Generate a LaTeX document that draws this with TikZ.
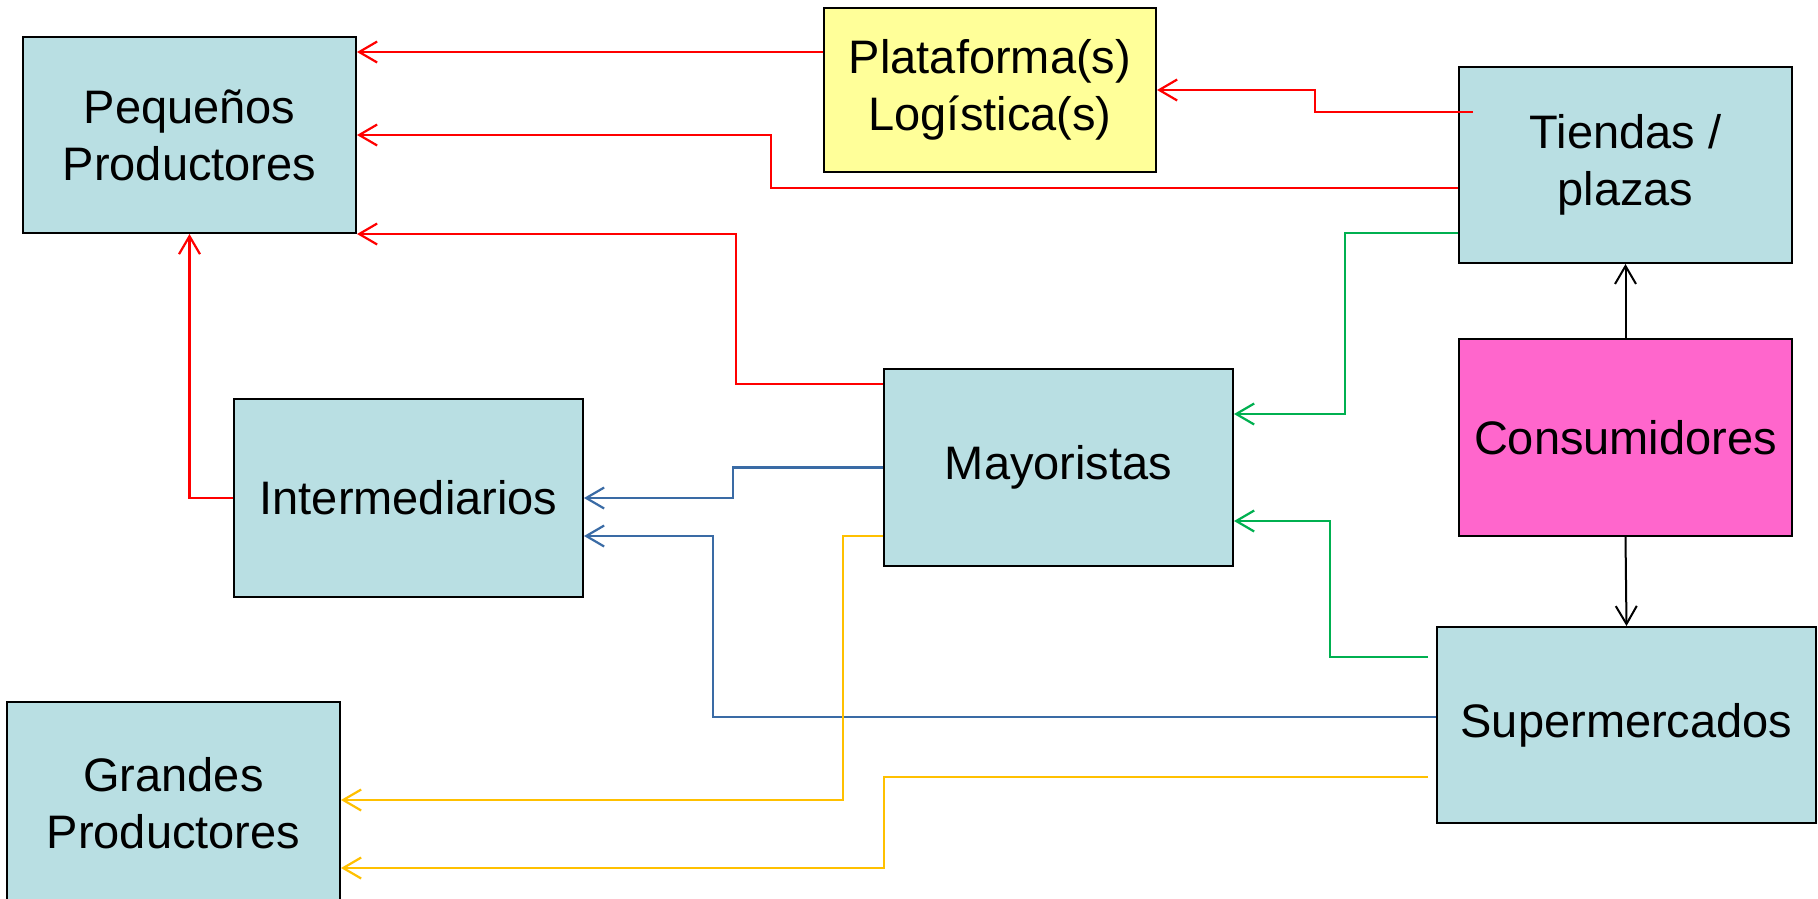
\documentclass[tikz,border=0pt]{standalone}
\usepackage{fontspec}
\setmainfont{Liberation Sans}
\usetikzlibrary{arrows.meta,calc}

\definecolor{boxblue}{RGB}{185,223,227}
\definecolor{boxyellow}{RGB}{255,255,153}
\definecolor{boxpink}{RGB}{255,102,204}
\definecolor{flowred}{RGB}{255,0,0}
\definecolor{flowblue}{RGB}{58,107,165}
\definecolor{floworange}{RGB}{255,192,0}
\definecolor{flowgreen}{RGB}{0,176,80}

\tikzset{
  actor/.style={draw=black, line width=2pt, fill=boxblue, inner sep=0pt,
    align=center, font=\fontsize{47}{57}\selectfont},
  flow/.style={line width=2.2pt, -{Straight Barb[length=18pt,width=21pt]}},
  redflow/.style={flow, draw=flowred},
  blueflow/.style={flow, draw=flowblue},
  orangeflow/.style={flow, draw=floworange},
  greenflow/.style={flow, draw=flowgreen},
  blackflow/.style={flow, draw=black, line width=2pt},
}

\begin{document}
\begin{tikzpicture}[x=1pt, y=-1pt]
\useasboundingbox (0,0) rectangle (1818,898);
\clip (0,0) rectangle (1818,898);
\fill[white] (0,0) rectangle (1818,898);

% actors of the supply chain
\node[actor, minimum width=333pt, minimum height=196pt] (peq) at (189.5,135) {Pequeños\\Productores};
\node[actor, fill=boxyellow, minimum width=332pt, minimum height=164pt] (plat) at (990,90) {Plataforma(s)\\Logística(s)};
\node[actor, minimum width=333pt, minimum height=196pt] (tien) at (1625.5,165) {Tiendas /\\plazas};
\node[actor, fill=boxpink, minimum width=333pt, minimum height=197pt] (cons) at (1625.5,437.5) {Consumidores};
\node[actor, minimum width=379pt, minimum height=196pt] (sup) at (1626.5,725) {Supermercados};
\node[actor, minimum width=349pt, minimum height=197pt] (may) at (1058.5,467.5) {Mayoristas};
\node[actor, minimum width=349pt, minimum height=198pt] (inter) at (408.5,498) {Intermediarios};
\node[actor, minimum width=333pt, minimum height=202pt] (gran) at (173.5,803) {Grandes\\Productores};

% start points of the flows on the source boxes
\coordinate (s1) at ([yshift=38pt]plat.west);
\coordinate (s2) at ([xshift=15pt,yshift=53pt]tien.west);
\coordinate (s3) at ([yshift=-23pt]tien.west);
\coordinate (s4) at ([yshift=83.5pt]may.west);
\coordinate (s7) at ([yshift=8pt]sup.west);
\coordinate (s8) at ([yshift=-68.5pt]may.west);
\coordinate (s9) at ([xshift=-8pt,yshift=-52pt]sup.west);
\coordinate (s10) at ([yshift=-68pt]tien.west);
\coordinate (s11) at ([xshift=-8pt,yshift=68pt]sup.west);

% red flows towards small producers and logistics platforms
\draw[redflow] (s1) -- (s1 -| peq.east);
\draw[redflow] (s2) -- ++(-158,0) |- (plat.east);
\draw[redflow] (s3) -- ++(-687,0) |- (peq.east);
\draw[redflow] (s4) -- ++(-147,0) |- (peq.south east);
\draw[redflow] (inter.west) -| (peq.south);

% blue flows towards intermediaries
\draw[blueflow] (may.west) -- ++(-150,0) |- (inter.east);
\draw[blueflow] (s7) -- ++(-723,0) |- ([yshift=-38pt]inter.east);

% orange flows towards large producers
\draw[orangeflow] (s8) -- ++(-40,0) |- ([yshift=3pt]gran.east);
\draw[orangeflow] (s9) -- ++(-544,0) |- ([yshift=-65pt]gran.east);

% green flows towards wholesalers
\draw[greenflow] (s10) -- ++(-113,0) |- ([yshift=53.5pt]may.east);
\draw[greenflow] (s11) -- ++(-98,0) |- ([yshift=-53.5pt]may.east);

% consumers
\draw[blackflow] (cons.north) -- (tien.south);
\draw[blackflow] (cons.south) -- (sup.north);
\end{tikzpicture}
\end{document}
